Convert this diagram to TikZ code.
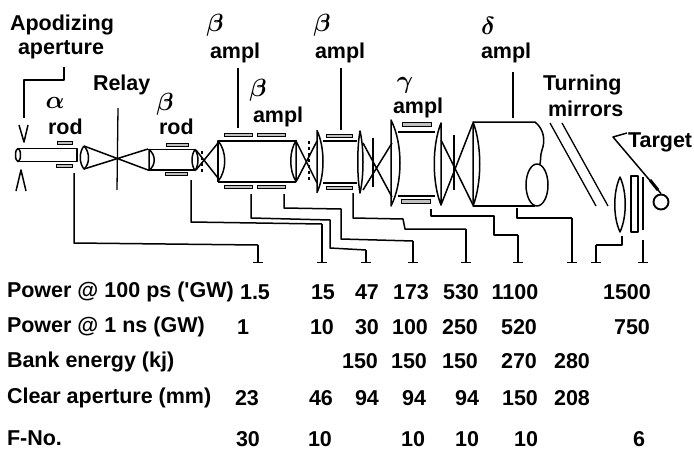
\documentclass[tikz,border=0pt]{standalone}
\usepackage{fontspec}
\setmainfont{Liberation Sans}
\usetikzlibrary{arrows.meta}
\tikzset{
  ink/.style={draw=black,line width=1.5pt,line join=round},
  thin ink/.style={draw=black,line width=1.3pt},
  bar/.style={draw=black,line width=1pt,fill=black!25},
  lbl/.style={inner sep=0pt,outer sep=0pt,font=\fontsize{21.5}{24}\selectfont\bfseries,text=black},
  tlbl/.style={lbl,anchor=base west},
  val/.style={lbl,anchor=base},
  greek/.style={inner sep=0pt,outer sep=0pt,font=\fontsize{23}{25}\selectfont\boldmath}
}
\newcommand{\mylens}[5]{% x, y centre, half height, left bulge, right bulge
  \draw[ink] (#1,#2-#3) .. controls (#1-#4,#2-#3*0.45) and (#1-#4,#2+#3*0.45) .. (#1,#2+#3)
     .. controls (#1+#5,#2+#3*0.45) and (#1+#5,#2-#3*0.45) .. cycle;}
\newcommand{\mybar}[3]{\draw[bar] (#1,#3) rectangle (#2,#3+3.5);}
\newcommand{\mytick}[2]{\draw[ink] (#1,#2) -- (#1,262) (#1-5,262.5) -- (#1+5,262.5);}
\begin{document}
\begin{tikzpicture}[x=1pt,y=-1pt]
\useasboundingbox (0,0) rectangle (694,450);
% upper labels
\node[tlbl] (apod) at (10,30) {Apodizing};
\node[tlbl] (aper) at (18,54) {aperture};
\node[tlbl] (relay) at (93,90) {Relay};
\node[greek] (ga) at (55,103) {$\alpha$};
\node[tlbl] (rod1) at (48,134) {rod};
\node[greek] (gb1) at (165,104) {$\beta$};
\node[tlbl] (rod2) at (159,134) {rod};
\node[greek] (gb2) at (215,25) {$\beta$};
\node[tlbl] (amp1) at (210,58) {ampl};
\node[greek] (gb3) at (258,90) {$\beta$};
\node[tlbl] (amp2) at (253,122) {ampl};
\node[greek] (gb4) at (322,25) {$\beta$};
\node[tlbl] (amp3) at (315,58) {ampl};
\node[greek] (gg) at (405,85) {$\gamma$};
\node[tlbl] (amp4) at (393,113) {ampl};
\node[greek] (gd) at (488,26) {$\delta$};
\node[tlbl] (amp5) at (481,58) {ampl};
\node[tlbl] (turn) at (543,90) {Turning};
\node[tlbl] (mirr) at (548,116) {mirrors};
\node[tlbl] (targ) at (628,147) {Target};
% apodizer
\coordinate (ap0) at (64,67);
\coordinate (ap1) at (24,118);
\draw[ink] (ap0) -- (64,80) -- (24,80) -- (ap1);
\draw[ink] (19,125) -- (24,142) -- (28,125);
\draw[ink] (16,191) -- (21,170) -- (26,191);
% alpha rod
\draw[ink] (18,148.5) -- (77,148.5) -- (77,161.5) -- (18,161.5);
\draw[ink] (18,155) ellipse (2.5 and 6.5);
\mybar{57}{72}{141}\mybar{56}{72}{164}
% relay
\draw[ink] (84,146) .. controls (79,152) and (79,163) .. (84,169) .. controls (90,164) and (90,152) .. (84,146);
\draw[ink] (84,146) -- (148,170) (84,169) -- (148,149);
\draw[thin ink] (118,108) -- (117,190);
% beta rod
\draw[ink] (148,149.5) -- (195,149.5) (148,170) -- (195,170);
\mylens{149}{160}{10.5}{0}{7}
\mylens{195}{160}{10.5}{4}{4}
\mybar{166}{188}{143}\mybar{165}{187}{172}
% filter 1
\draw[ink] (196,150) -- (218,178) (196,170) -- (218,143);
\draw[thin ink,dashed] (202,151) -- (202,172);
% amp 1
\draw[ink] (218,141) -- (296,141) (218,182) -- (296,182);
\mylens{218}{161}{20.5}{0}{9}
\mylens{296}{161}{20.5}{7}{0}
\draw[ink] (218,141) -- (218,182);
\mybar{224}{252}{133}\mybar{257}{285}{133}\mybar{224}{252}{185}\mybar{257}{285}{185}
\draw[thin ink] (238,68) -- (238,128);
% filter 2
\draw[ink] (296,141) -- (317,183) (296,182) -- (317,141);
\draw[thin ink,dashed] (309,141) -- (309,180);
% amp 2
\mylens{317}{161.5}{31}{0}{8}
\draw[ink] (323,141) -- (357,141) (323,183) -- (357,183);
\mylens{360}{162}{31}{3}{4}
\mybar{326}{352}{134}\mybar{326}{352}{186}
\draw[thin ink] (341,68) -- (341,130);
% filter 3
\draw[ink] (363,143) -- (392,197) (363,190) -- (392,143);
\draw[thin ink] (373,138) -- (373,187);
% gamma amp
\mylens{391}{163}{43}{0}{12}
\draw[ink] (398,132) -- (435,132) (398,196) -- (435,196);
\mylens{441}{164}{41}{9}{0}
\mybar{402}{431}{122.5}\mybar{401}{430}{199.5}
% filter 4
\draw[ink] (441,140) -- (473,205) (441,205) -- (473,123);
\draw[thin ink] (454,135) -- (454,190);
% delta amp
\mylens{473}{164}{42}{0}{9}
\draw[ink] (473,122) -- (535,122) .. controls (545,130) and (545,142) .. (542,150) .. controls (540,156) and (541,160) .. (540,164);
\draw[ink] (473,206) -- (535,206);
\draw[ink] (537,185) ellipse (11 and 21);
\draw[thin ink] (513,72) -- (513,118);
% turning mirrors
\draw[thin ink] (550,123) -- (596,206) (562,123) -- (608,206);
% target optics
\mylens{620}{204.5}{27.5}{7}{7}
\draw[ink] (631,176) rectangle (638,232);
\draw[ink] (643,177) -- (643,230);
\node[draw=black,line width=1.9pt,circle,minimum size=15pt,inner sep=0pt] (tc) at (661,202) {};
\draw[ink] (627,133) -- (613,137) -- (tc.north);
\draw[line width=3pt] (650,180) -- (658,190);
% control leaders
\mytick{258}{245}
\draw[ink] (74,173) -- (74,243) -- (258,245);
\mytick{322}{224}
\draw[ink] (191,180) -- (191,222) -- (322,224);
\mytick{366}{250}
\draw[ink] (251,194) -- (251,218) -- (330,220) -- (330,248) -- (366,250);
\mytick{413}{241}
\draw[ink] (284,194) -- (284,208) -- (341,209) -- (341,239) -- (413,241);
\mytick{466}{229}
\draw[ink] (353,193) -- (353,218) -- (403,219) -- (405,229) -- (466,229);
\mytick{518}{235}
\draw[ink] (431,209) -- (431,216) -- (494,216) -- (494,235) -- (518,235);
\mytick{572}{218}
\draw[ink] (517,208) -- (517,218) -- (572,218);
\mytick{596}{245}
\draw[ink] (622,236) -- (622,245) -- (596,245);
\mytick{643}{240}
% table
\node[tlbl] (r1) at (7,297) {Power @ 100 ps (ʹGW)};
\node[tlbl] (r2) at (7,332) {Power @ 1 ns (GW)};
\node[tlbl] (r3) at (7,367) {Bank energy (kj)};
\node[tlbl] (r4) at (7,403) {Clear aperture (mm)};
\node[tlbl] (r5) at (7,445) {F-No.};
\foreach \x/\v [count=\i] in {255/1.5,323/15,367/47,411/173,461/530,515/1100,627/1500}
  \node[val] (a\i) at (\x,299) {\v};
\foreach \x/\v [count=\i] in {243/1,322/10,367/30,410/100,460/250,519/520,632/750}
  \node[val] (b\i) at (\x,334) {\v};
\foreach \x/\v [count=\i] in {360/150,409/150,460/150,519/270,572/280}
  \node[val] (c\i) at (\x,368) {\v};
\foreach \x/\v [count=\i] in {247/23,321/46,367/94,414/94,467/94,520/150,572/208}
  \node[val] (d\i) at (\x,405) {\v};
\foreach \x/\v [count=\i] in {248/30,320/10,413/10,467/10,526/10,639/6}
  \node[val] (e\i) at (\x,446.5) {\v};
\end{tikzpicture}
\end{document}
